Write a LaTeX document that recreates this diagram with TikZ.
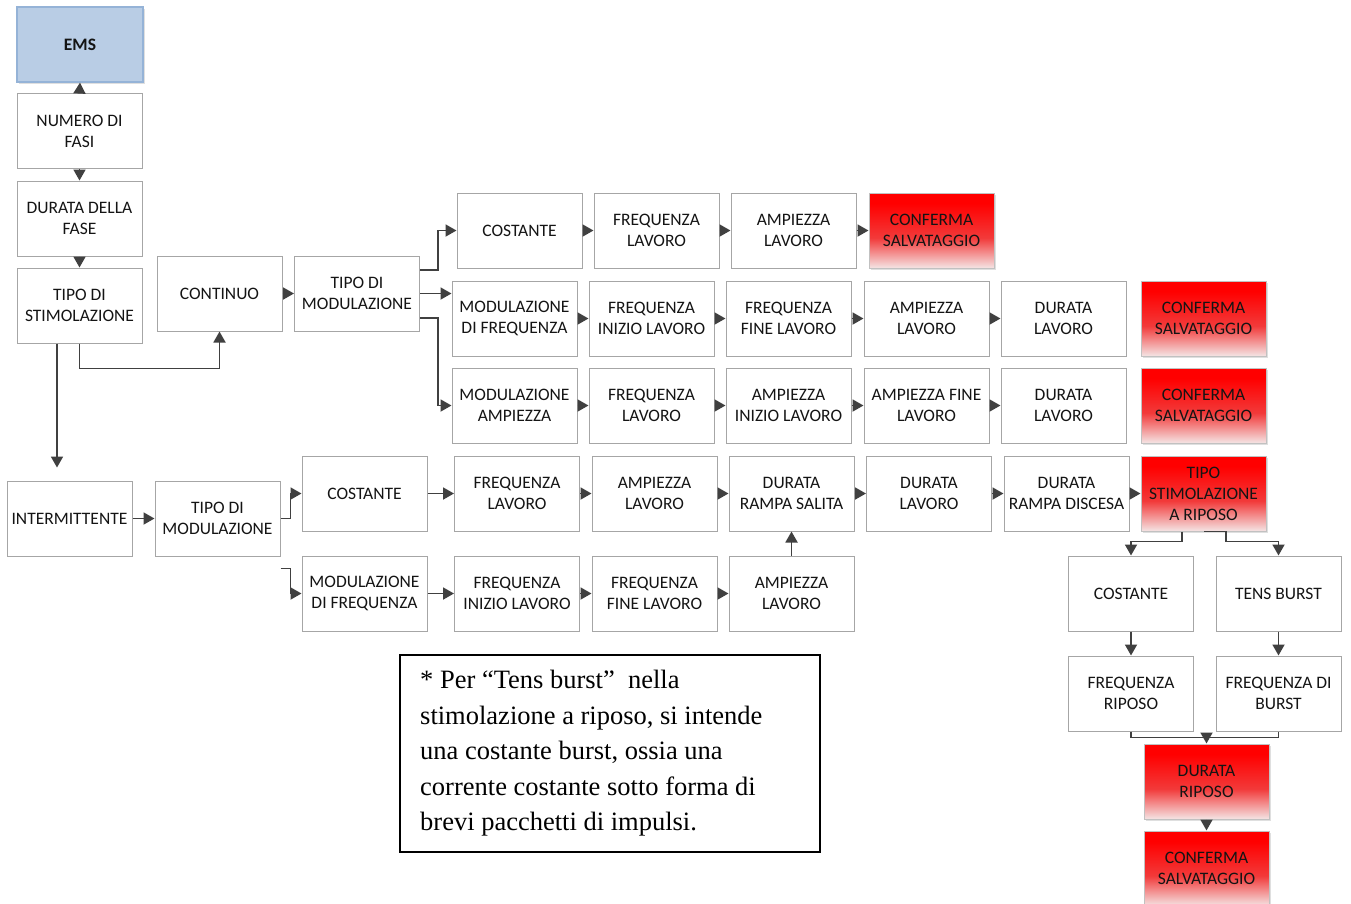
\documentclass[tikz,border=0pt]{standalone}
\usepackage{fontspec}
\setmainfont{Carlito}
\newfontfamily\notefont{Liberation Serif}
\usetikzlibrary{arrows.meta,shadows}
\definecolor{bordergray}{HTML}{A6A6A6}
\definecolor{arrowgray}{HTML}{404040}
\definecolor{emsblue}{HTML}{B9CDE5}
\definecolor{emsborder}{HTML}{95B3D7}
\definecolor{fadepink}{HTML}{F4E4E4}
\definecolor{midred}{HTML}{F23A3A}
\pgfdeclareverticalshading{redfade}{100bp}{color(0bp)=(fadepink); color(25bp)=(fadepink); color(45bp)=(midred); color(68bp)=(red); color(100bp)=(red)}
\begin{document}
\begin{tikzpicture}[x=1pt,y=-1pt,
  box/.style={draw=bordergray, line width=1pt, fill=white, minimum width=125pt, minimum height=75pt,
    inner sep=0pt, align=center, font=\fontsize{17.5}{21}\selectfont, text=black!92},
  redbox/.style={box, draw=bordergray!70, shading=redfade, drop shadow={opacity=0.25, shadow xshift=1.5pt, shadow yshift=-1.5pt}},
  emsbox/.style={box, draw=emsborder, line width=1.2pt, fill=emsblue, minimum width=126pt, font=\fontsize{17.5}{21}\selectfont\bfseries,
    drop shadow={opacity=0.25, shadow xshift=1.5pt, shadow yshift=-1.5pt}},
  arr/.style={draw=arrowgray, line width=1.8pt, -{Triangle[length=11pt,width=12pt]}},
  ln/.style={draw=arrowgray, line width=1.8pt},
  notebox/.style={draw=black, line width=1.5pt, minimum width=420pt, minimum height=197pt, inner sep=0pt}
]
\useasboundingbox (0,0) rectangle (1351,903);
\fill[white] (0,0) rectangle (1351,903);

% left column
\node[emsbox] (ems) at (80,44.5) {EMS};
\node[box] (num) at (79.5,131) {NUMERO DI\\FASI};
\node[box] (dur) at (79.5,218.5) {DURATA DELLA\\FASE};
\node[box] (ts) at (79.5,305.5) {TIPO DI\\STIMOLAZIONE};
\node[box] (cont) at (219.5,293.5) {CONTINUO};
\node[box] (tm1) at (357,293.5) {TIPO DI\\MODULAZIONE};

% row 1
\node[box] (cost1) at (519.5,230.5) {COSTANTE};
\node[box] (fl1) at (656.5,230.5) {FREQUENZA\\LAVORO};
\node[box] (al1) at (793.5,230.5) {AMPIEZZA\\LAVORO};
\node[redbox] (conf1) at (931.5,230.5) {CONFERMA\\SALVATAGGIO};

% row 2
\node[box] (mf2) at (514.5,318.5) {MODULAZIONE\\DI FREQUENZA};
\node[box] (fil2) at (651.5,318.5) {FREQUENZA\\INIZIO LAVORO};
\node[box] (ffl2) at (788.5,318.5) {FREQUENZA\\FINE LAVORO};
\node[box] (al2) at (926.5,318.5) {AMPIEZZA\\LAVORO};
\node[box] (dl2) at (1063.5,318.5) {DURATA\\LAVORO};
\node[redbox] (conf2) at (1203.5,318.5) {CONFERMA\\SALVATAGGIO};

% row 3
\node[box] (ma3) at (514.5,405.5) {MODULAZIONE\\AMPIEZZA};
\node[box] (fl3) at (651.5,405.5) {FREQUENZA\\LAVORO};
\node[box] (ail3) at (788.5,405.5) {AMPIEZZA\\INIZIO LAVORO};
\node[box] (afl3) at (926.5,405.5) {AMPIEZZA FINE\\LAVORO};
\node[box] (dl3) at (1063.5,405.5) {DURATA\\LAVORO};
\node[redbox] (conf3) at (1203.5,405.5) {CONFERMA\\SALVATAGGIO};

% intermittent
\node[box] (inter) at (69.5,518.5) {INTERMITTENTE};
\node[box] (tm2) at (217.5,518.5) {TIPO DI\\MODULAZIONE};

% row 4
\node[box] (cost4) at (364.5,493.5) {COSTANTE};
\node[box] (fl4) at (517,493.5) {FREQUENZA\\LAVORO};
\node[box] (al4) at (654.5,493.5) {AMPIEZZA\\LAVORO};
\node[box] (drs4) at (791.5,493.5) {DURATA\\RAMPA SALITA};
\node[box] (dl4) at (929,493.5) {DURATA\\LAVORO};
\node[box] (drd4) at (1066.5,493.5) {DURATA\\RAMPA DISCESA};
\node[redbox] (tsr) at (1203.5,493.5) {TIPO\\STIMOLAZIONE\\A RIPOSO};

% row 5
\node[box] (mf5) at (364.5,593.5) {MODULAZIONE\\DI FREQUENZA};
\node[box] (fil5) at (517,593.5) {FREQUENZA\\INIZIO LAVORO};
\node[box] (ffl5) at (654.5,593.5) {FREQUENZA\\FINE LAVORO};
\node[box] (al5) at (791.5,593.5) {AMPIEZZA\\LAVORO};

% rest branch
\node[box] (cost6) at (1131,593.5) {COSTANTE};
\node[box] (tb6) at (1278.5,593.5) {TENS BURST};
\node[box] (fr7) at (1131,693.5) {FREQUENZA\\RIPOSO};
\node[box] (fb7) at (1278.5,693.5) {FREQUENZA DI\\BURST};
\node[redbox] (dr8) at (1206.5,781.5) {DURATA\\RIPOSO};
\node[redbox] (conf9) at (1206.5,868.5) {CONFERMA\\SALVATAGGIO};

% note
\node[notebox] (note) at (610,753.5) {};
\node[anchor=north west, inner sep=0pt, align=left, font=\notefont\fontsize{26.5}{35.5}\selectfont, text=black]
  (notetext) at (420,670) {* Per “Tens burst”\ \ nella\\stimolazione a riposo, si intende\\una costante burst, ossia una\\corrente costante sotto forma di\\brevi pacchetti di impulsi.};

% connectors left column
\draw[arr] (num.north) -- (ems.south);
\draw[arr] (num.south) -- (dur.north);
\draw[arr] (dur.south) -- (ts.north);
\draw[arr] (ts.south) -- ++(0,25) -| (cont.south);
\draw[arr] ([xshift=-22.5pt]ts.south) -- ([xshift=-12.5pt,yshift=13pt]inter.north);
\draw[arr] (cont.east) -- (tm1.west);

% tm1 branches
\draw[arr] ([yshift=23.5pt]tm1.east) -- ++(18,0) |- (cost1.west);
\draw[arr] (tm1.east) -- (tm1.east -| mf2.west);
\draw[arr] ([yshift=-24.5pt]tm1.east) -- ++(18,0) |- (ma3.west);

% row arrows
\draw[arr] (cost1.east) -- (fl1.west);
\draw[arr] (fl1.east) -- (al1.west);
\draw[arr] (al1.east) -- (conf1.west);
\draw[arr] (mf2.east) -- (fil2.west);
\draw[arr] (fil2.east) -- (ffl2.west);
\draw[arr] (ffl2.east) -- (al2.west);
\draw[arr] (al2.east) -- (dl2.west);
\draw[arr] (ma3.east) -- (fl3.west);
\draw[arr] (fl3.east) -- (ail3.west);
\draw[arr] (ail3.east) -- (afl3.west);
\draw[arr] (afl3.east) -- (dl3.west);

% intermittent
\draw[arr] (inter.east) -- (tm2.west);
\draw[arr] (tm2.east) -- ++(10,0) |- (cost4.west);
\draw[arr] ([yshift=-12pt]tm2.south east) -- ++(10,0) |- (mf5.west);
\draw[arr] (cost4.east) -- (fl4.west);
\draw[arr] (fl4.east) -- (al4.west);
\draw[arr] (al4.east) -- (drs4.west);
\draw[arr] (drs4.east) -- (dl4.west);
\draw[arr] (dl4.east) -- (drd4.west);
\draw[arr] (drd4.east) -- (tsr.west);
\draw[arr] (mf5.east) -- (fil5.west);
\draw[arr] (fil5.east) -- (ffl5.west);
\draw[arr] (ffl5.east) -- (al5.west);
\draw[arr] (al5.north) -- (drs4.south);

% rest branch
\draw[arr] ([xshift=-21.5pt]tsr.south) -- ++(0,10) -| (cost6.north);
\draw[arr] ([xshift=0.5pt]tsr.south) -- ++(22,0) -- ++(0,10) -| (tb6.north);
\draw[arr] (cost6.south) -- (fr7.north);
\draw[arr] (tb6.south) -- (fb7.north);
\draw[ln] (fr7.south) -- ++(0,6) coordinate (j1) -| (fb7.south);
\draw[arr] (j1 -| dr8.north) -- (dr8.north);
\draw[arr] (dr8.south) -- (conf9.north);
\end{tikzpicture}
\end{document}
